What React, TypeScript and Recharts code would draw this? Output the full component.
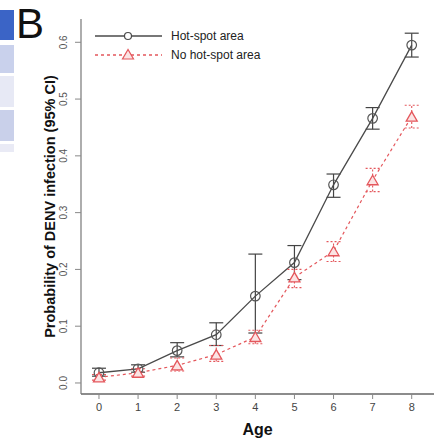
import React from 'react';
import {
  ComposedChart,
  Line,
  XAxis,
  YAxis,
  ErrorBar,
} from 'recharts';

const ages = [0, 1, 2, 3, 4, 5, 6, 7, 8];
const hotSpot = [0.018, 0.025, 0.057, 0.085, 0.153, 0.212, 0.349, 0.466, 0.595];
const hotLow = [0.012, 0.019, 0.046, 0.066, 0.088, 0.182, 0.327, 0.447, 0.574];
const hotHigh = [0.026, 0.032, 0.071, 0.106, 0.227, 0.242, 0.368, 0.485, 0.616];
const noHotSpot = [0.01, 0.018, 0.031, 0.05, 0.081, 0.186, 0.232, 0.357, 0.469];
const noLow = [0.005, 0.012, 0.021, 0.038, 0.069, 0.168, 0.214, 0.337, 0.449];
const noHigh = [0.015, 0.025, 0.044, 0.066, 0.093, 0.2, 0.249, 0.378, 0.489];
const yTicks = [0, 0.1, 0.2, 0.3, 0.4, 0.5, 0.6];

const data = ages.map((a, i) => ({
  age: a,
  hot: hotSpot[i],
  hotErr: [hotSpot[i] - hotLow[i], hotHigh[i] - hotSpot[i]],
  no: noHotSpot[i],
  noErr: [noHotSpot[i] - noLow[i], noHigh[i] - noHotSpot[i]],
}));

const RED = '#e4575c';
const DARK = '#4a4a4a';
const TRI_FILL = '#fbe4e4';

const TriangleDot = (props: any) => {
  const { cx, cy } = props;
  if (cx == null || cy == null) return null;
  return (
    <polygon
      points={`${cx},${cy - 5} ${cx - 5.5},${cy + 4.5} ${cx + 5.5},${cy + 4.5}`}
      fill={TRI_FILL}
      stroke={RED}
      strokeWidth={1.3}
    />
  );
};

const YTick = (props: any) => {
  const { x, y, payload } = props;
  return (
    <text
      x={x - 6}
      y={y}
      transform={`rotate(-90 ${x - 6} ${y})`}
      textAnchor="middle"
      fontSize={10}
      fill="#555"
    >
      {payload.value.toFixed(1)}
    </text>
  );
};

const LegendBox = () => (
  <svg width={200} height={40} style={{ display: 'block' }}>
    <line x1={0} y1={8} x2={67} y2={8} stroke={DARK} strokeWidth={1.3} />
    <circle cx={33} cy={8} r={3.5} fill="#fff" stroke={DARK} strokeWidth={1.2} />
    <text x={76} y={12} fontSize={12} fill="#222">Hot-spot area</text>
    <line x1={0} y1={27} x2={67} y2={27} stroke={RED} strokeWidth={1.3} strokeDasharray="3 3" />
    <polygon points="33,21.5 27.5,31 38.5,31" fill={TRI_FILL} stroke={RED} strokeWidth={1.2} />
    <text x={76} y={31} fontSize={12} fill="#222">No hot-spot area</text>
  </svg>
);

const blocks = [
  { top: 10, h: 30, c: '#3b64c6' },
  { top: 45, h: 28, c: '#c9d1ec' },
  { top: 76, h: 31, c: '#e7e9f5' },
  { top: 110, h: 31, c: '#c9d0ea' },
  { top: 144, h: 8, c: '#e9eaf5' },
];

export default function App() {
  return (
    <div style={{ position: 'absolute', left: 0, top: 0, width: 434, height: 439, background: '#fff', fontFamily: 'Liberation Sans, Arial, sans-serif' }}>
      {blocks.map((b, i) => (
        <div key={i} style={{ position: 'absolute', left: 0, top: b.top, width: 14, height: b.h, background: b.c }} />
      ))}
      <div style={{ position: 'absolute', left: 16, top: 3, fontSize: 42, lineHeight: '42px', color: '#111' }}>B</div>
      <ComposedChart
        width={434}
        height={439}
        data={data}
        margin={{ top: 19, right: 0, left: 51, bottom: 0 }}
        style={{ fontFamily: 'Liberation Sans, Arial, sans-serif' }}
      >
        <XAxis
          dataKey="age"
          type="number"
          domain={[-0.46, 8.57]}
          ticks={ages}
          height={45}
          axisLine={{ stroke: '#666', strokeWidth: 1.5 }}
          tickLine={{ stroke: '#888' }}
          tickSize={5}
          tick={{ fill: '#444', fontSize: 11 }}
          tickMargin={4}
          label={{ value: 'Age', position: 'insideBottom', offset: 4, fontSize: 16, fontWeight: 'bold', fill: '#111' }}
        />
        <XAxis
          xAxisId="top"
          orientation="top"
          dataKey="age"
          type="number"
          domain={[-0.46, 8.57]}
          height={0}
          tick={false}
          tickLine={false}
          axisLine={{ stroke: '#999', strokeWidth: 1.2 }}
        />
        <YAxis
          type="number"
          domain={[-0.0194, 0.641]}
          ticks={yTicks}
          width={30}
          axisLine={{ stroke: '#777', strokeWidth: 1.2 }}
          tickLine={{ stroke: '#888' }}
          tickSize={6}
          tick={<YTick />}
          label={{
            value: 'Probability of DENV infection (95% CI)',
            angle: -90,
            position: 'left',
            offset: 1,
            fontSize: 14.5,
            fontWeight: 'bold',
            fill: '#111',
            style: { textAnchor: 'middle' },
          }}
        />
        <Line
          dataKey="hot"
          stroke={DARK}
          strokeWidth={1.3}
          dot={{ r: 4.8, fill: 'transparent', stroke: '#555', strokeWidth: 1.2 }}
          isAnimationActive={false}
        >
          <ErrorBar dataKey="hotErr" width={7} stroke="#444" strokeWidth={1.2} direction="y" />
        </Line>
        <Line
          dataKey="no"
          stroke={RED}
          strokeWidth={1.2}
          strokeDasharray="3 3"
          dot={<TriangleDot />}
          isAnimationActive={false}
        >
          <ErrorBar dataKey="noErr" width={7} stroke={RED} strokeWidth={1.1} strokeDasharray="2 2" direction="y" />
        </Line>
      </ComposedChart>
      <div style={{ position: 'absolute', left: 95, top: 28 }}>
        <LegendBox />
      </div>
    </div>
  );
}
